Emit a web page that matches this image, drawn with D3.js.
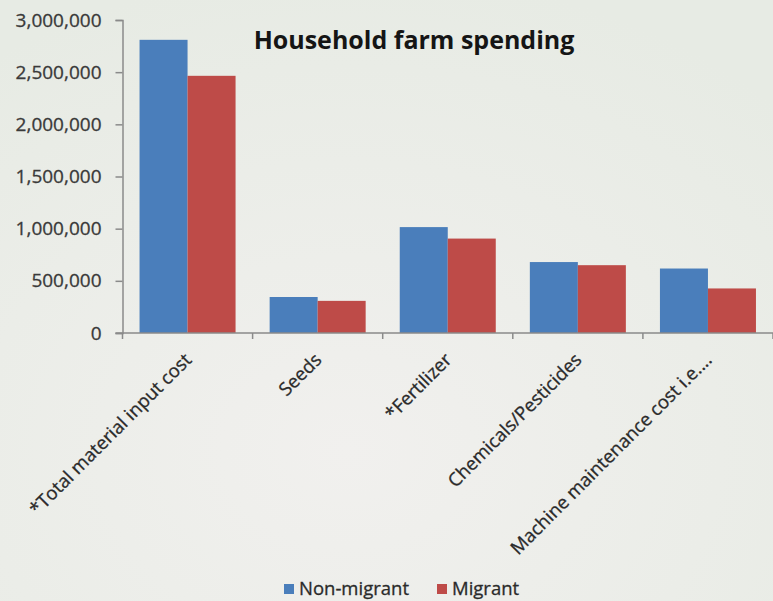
<!DOCTYPE html>
<html>
<head>
<meta charset="utf-8">
<script src="https://cdn.jsdelivr.net/npm/d3@7"></script>
<style>
  html, body { margin: 0; padding: 0; background: #eceee9; }
  svg { display: block; }
  text { font-family: "Open Sans", sans-serif; }
</style>
</head>
<body>
<svg id="chart" width="773" height="601"></svg>
<script>
// Household farm spending by migration status
const categories = [
  "*Total material input cost",
  "Seeds",
  "*Fertilizer",
  "Chemicals/Pesticides",
  "Machine maintenance cost i.e...."
];
const seriesNames = ["Non-migrant", "Migrant"];
const nonMigrant = [2810000, 345000, 1015000, 680000, 618000];
const migrant = [2465000, 308000, 905000, 650000, 427000];
const yTicks = [0, 500000, 1000000, 1500000, 2000000, 2500000, 3000000];
const colors = ["#4a7ebb", "#be4b48"];

const rows = categories.map((c, i) => ({ category: c, values: [nonMigrant[i], migrant[i]] }));

const svg = d3.select("#chart");
const W = 773, H = 601;
const plot = { left: 122.5, right: 773, top: 20, bottom: 333 };

// soft background wash
const defs = svg.append("defs");
const bg = defs.append("radialGradient").attr("id", "bg")
  .attr("cx", "45%").attr("cy", "75%").attr("r", "80%");
bg.append("stop").attr("offset", "0%").attr("stop-color", "#f1f0ee");
bg.append("stop").attr("offset", "100%").attr("stop-color", "#e7ebe4");
svg.append("rect").attr("width", W).attr("height", H).attr("fill", "url(#bg)");

const x = d3.scaleBand()
  .domain(categories)
  .range([plot.left, plot.right])
  .paddingInner(0.262)
  .paddingOuter(0.131);
const xs = d3.scaleBand().domain(seriesNames).range([0, x.bandwidth()]);
const y = d3.scaleLinear().domain([0, 3000000]).range([plot.bottom, plot.top]);

// bars
const groups = svg.append("g").selectAll("g").data(rows).join("g")
  .attr("transform", d => `translate(${x(d.category)},0)`);
groups.selectAll("rect")
  .data(d => d.values.map((v, k) => ({ key: seriesNames[k], value: v, k })))
  .join("rect")
  .attr("x", d => xs(d.key))
  .attr("width", xs.bandwidth())
  .attr("y", d => y(d.value))
  .attr("height", d => y(0) - y(d.value))
  .attr("fill", d => colors[d.k]);

// y axis
const yAxis = svg.append("g")
  .attr("transform", `translate(${plot.left},0)`)
  .call(d3.axisLeft(y).tickValues(yTicks).tickSize(7).tickPadding(14)
    .tickFormat(d3.format(",")));
yAxis.select(".domain").attr("stroke", "#8a8a8a").attr("stroke-width", 1.5);
yAxis.selectAll(".tick line").attr("stroke", "#8a8a8a").attr("stroke-width", 1.5);
yAxis.selectAll(".tick text")
  .attr("fill", "#3a3a3a").attr("stroke", "#3a3a3a").attr("stroke-width", 0.3)
  .style("font-size", "19px");

// x axis line and category dividers
const xAxis = svg.append("g");
xAxis.append("line")
  .attr("x1", plot.left - 7).attr("x2", plot.right)
  .attr("y1", y(0)).attr("y2", y(0))
  .attr("stroke", "#8a8a8a").attr("stroke-width", 1.5);
const step = x.step();
xAxis.selectAll(".div").data(d3.range(categories.length + 1)).join("line")
  .attr("x1", i => plot.left + i * step).attr("x2", i => plot.left + i * step)
  .attr("y1", y(0)).attr("y2", y(0) + 6)
  .attr("stroke", "#8a8a8a").attr("stroke-width", 1.5);

// rotated category labels
xAxis.selectAll(".lab").data(categories).join("text")
  .attr("transform", d => `translate(${x(d) + x.bandwidth() / 2 + 5},${y(0) + 28}) rotate(-45)`)
  .attr("text-anchor", "end")
  .attr("fill", "#2a2a2a").attr("stroke", "#2a2a2a").attr("stroke-width", 0.3)
  .style("font-size", "18.5px")
  .text(d => d);

// title
svg.append("text")
  .attr("x", 414).attr("y", 49)
  .attr("text-anchor", "middle")
  .style("font-size", "25px").style("font-weight", "700")
  .attr("fill", "#151515")
  .text("Household farm spending");

// legend
const legend = svg.append("g");
const legendItems = [
  { name: seriesNames[0], color: colors[0], x: 284 },
  { name: seriesNames[1], color: colors[1], x: 437 }
];
legendItems.forEach(it => {
  legend.append("rect").attr("x", it.x).attr("y", 584).attr("width", 10).attr("height", 10)
    .attr("fill", it.color);
  legend.append("text").attr("x", it.x + 15).attr("y", 595)
    .attr("fill", "#2a2a2a").attr("stroke", "#2a2a2a").attr("stroke-width", 0.3)
    .style("font-size", "18.5px").text(it.name);
});
</script>
</body>
</html>
